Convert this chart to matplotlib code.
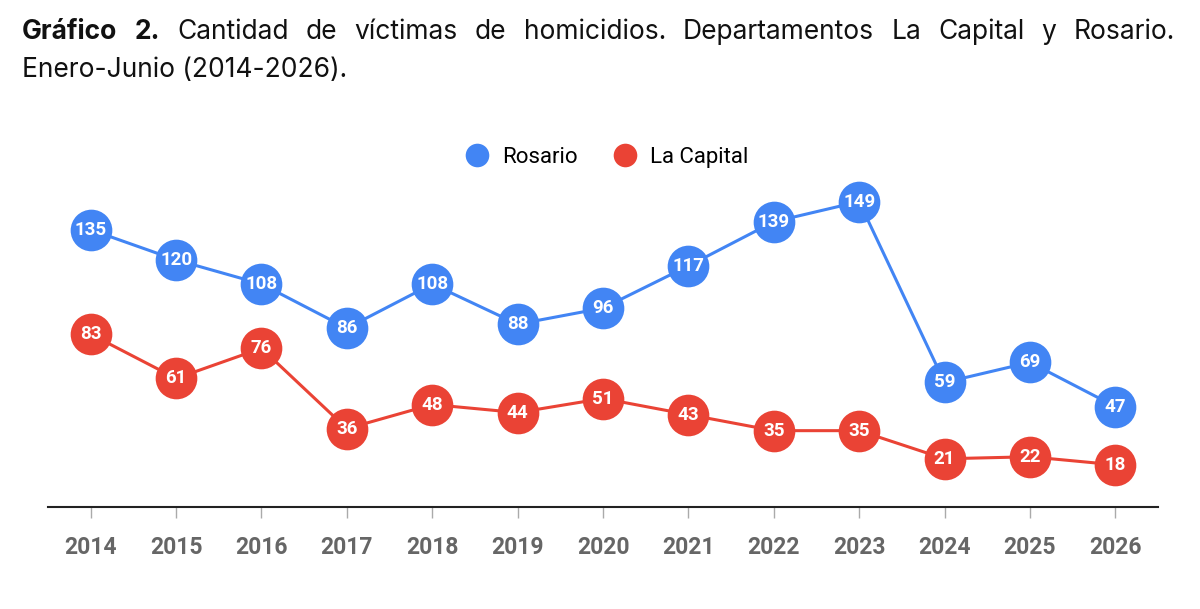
import matplotlib
matplotlib.use("Agg")
import matplotlib.pyplot as plt
from matplotlib.lines import Line2D
import numpy as np

plt.rcParams['font.family'] = ['Roboto', 'DejaVu Sans']

years = ['2014', '2015', '2016', '2017', '2018', '2019', '2020',
         '2021', '2022', '2023', '2024', '2025', '2026']
rosario = [135, 120, 108, 86, 108, 88, 96, 117, 139, 149, 59, 69, 47]
la_capital = [83, 61, 76, 36, 48, 44, 51, 43, 35, 35, 21, 22, 18]

blue = '#4285F4'
red = '#EA4335'

fig = plt.figure(figsize=(12, 6.09), dpi=100)
ax = fig.add_axes([0.04, 0.1675, 0.925, 0.5865])

x = np.arange(len(years))
for vals, col in [(rosario, blue), (la_capital, red)]:
    ax.plot(x, vals, color=col, lw=2.2, marker='o', markersize=30,
            markeredgewidth=0, clip_on=False, zorder=3)
    for xi, v in zip(x, vals):
        ax.text(xi, v, str(v), color='white', fontsize=13.5, fontweight='bold',
                ha='center', va='center', zorder=4)

ax.set_xlim(-0.5, 12.5)
ax.set_ylim(-3, 174.8)
ax.set_xticks(x)
ax.set_xticklabels(years, fontsize=16.5, fontweight='bold', color='#666666')
ax.set_yticks([])
for s in ['top', 'right', 'left']:
    ax.spines[s].set_visible(False)
ax.spines['bottom'].set_color('#222222')
ax.spines['bottom'].set_linewidth(1.5)
ax.tick_params(axis='x', length=8, color='#aaaaaa', width=1, pad=13)

handles = [Line2D([], [], ls='none', marker='o', markersize=17, color=blue, markeredgewidth=0),
           Line2D([], [], ls='none', marker='o', markersize=17, color=red, markeredgewidth=0)]
fig.legend(handles, ['Rosario', 'La Capital'], loc='center', bbox_to_anchor=(0.505, 0.742),
           ncol=2, frameon=False, fontsize=16, handletextpad=0.55, columnspacing=1.5,
           handlelength=1.2)

# justified title, two lines
line1 = [('Gráfico', 'bold'), ('2.', 'bold'), ('Cantidad', 'normal'), ('de', 'normal'),
         ('víctimas', 'normal'), ('de', 'normal'), ('homicidios.', 'normal'),
         ('Departamentos', 'normal'), ('La', 'normal'), ('Capital', 'normal'),
         ('y', 'normal'), ('Rosario.', 'normal')]
left_px, right_px = 22, 1175
W, H = 1200, 609
title_font = ['Inter', 'DejaVu Sans']
renderer = fig.canvas.get_renderer()
texts = []
for w, fw in line1:
    t = fig.text(0, 1 - 39 / H, w, fontsize=19, fontweight=fw, color='#111111',
                 va='baseline', family=title_font)
    texts.append(t)
widths = [t.get_window_extent(renderer).width for t in texts]
gap = (right_px - left_px - sum(widths)) / (len(texts) - 1)
pos = left_px
for t, wd in zip(texts, widths):
    t.set_x(pos / W)
    pos += wd + gap
fig.text(left_px / W, 1 - 77 / H, 'Enero-Junio (2014-2026).', fontsize=19,
         color='#111111', va='baseline', family=title_font)

fig.savefig('out.png', dpi=100, facecolor='white')
